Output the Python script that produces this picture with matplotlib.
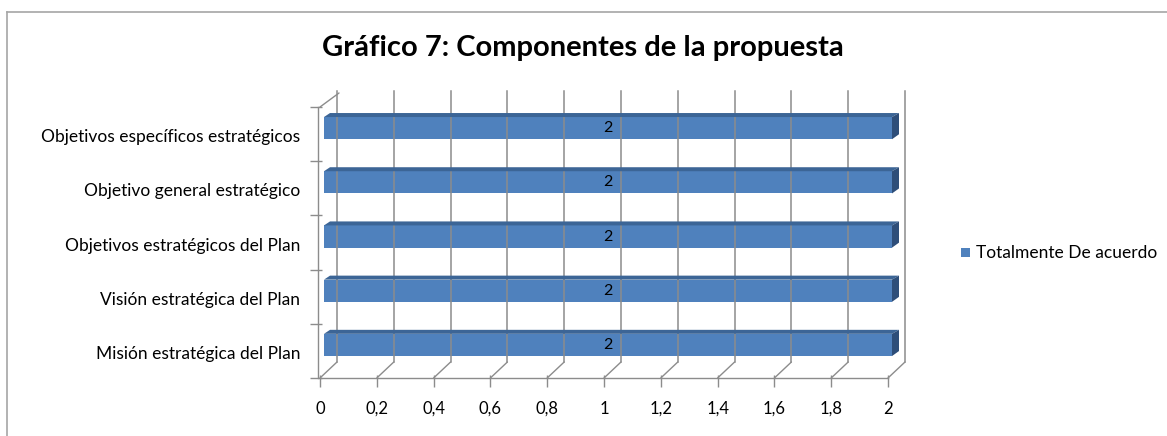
import matplotlib.pyplot as plt
import matplotlib.transforms as mtransforms
from matplotlib.patches import Polygon
from matplotlib.lines import Line2D

categorias = ["Misión estratégica del Plan", "Visión estratégica del Plan",
              "Objetivos estratégicos del Plan", "Objetivo general estratégico",
              "Objetivos específicos estratégicos"]
valores = [2, 2, 2, 2, 2]
ticks_x = [0, 0.2, 0.4, 0.6, 0.8, 1, 1.2, 1.4, 1.6, 1.8, 2]
etiquetas_x = ["0", "0,2", "0,4", "0,6", "0,8", "1", "1,2", "1,4", "1,6", "1,8", "2"]
serie = "Totalmente De acuerdo"

W, H = 1167, 436
fig = plt.figure(figsize=(W / 100, H / 100), dpi=100)
plt.rcParams['font.family'] = ['Lato', 'DejaVu Sans']

# marco del gráfico (solo se ven arriba e izquierda)
fig.add_artist(Line2D([7 / W, 7 / W], [0, 1 - 12 / H], color="#a6a6a6", lw=1.2))
fig.add_artist(Line2D([7 / W, 1], [1 - 12 / H, 1 - 12 / H], color="#a6a6a6", lw=1.2))

# ejes: frente del "suelo" de 320 a 888 px, de y=107 a y=378
ax = fig.add_axes([320 / W, 1 - 378 / H, 568 / W, 271 / H])
ax.set_xlim(0, 2)
ax.set_ylim(-0.5, 4.5)
ax.axis("off")

def off(dx, dy):
    return ax.transData + mtransforms.ScaledTranslation(dx / 100, dy / 100, fig.dpi_scale_trans)

DX, DY = 17, 16
grid = "#8c8c8c"
for t in ticks_x:
    # línea del fondo
    ax.plot([t, t], [-0.5, 4.5], color=grid, lw=1.1, transform=off(DX, DY), clip_on=False)
    # diagonal del suelo
    ax.annotate("", xy=(t, -0.5), xytext=(DX, DY), textcoords="offset pixels",
                xycoords="data", arrowprops=dict(arrowstyle="-", color=grid, lw=1.0,
                                                 shrinkA=0, shrinkB=0))
    ax.plot([t], [-0.5], color=grid, lw=1.0, marker=(2, 0, 0), ms=8,
            transform=off(0, -3), clip_on=False)

ax.plot([0, 2], [-0.5, -0.5], color=grid, lw=1.0, clip_on=False)
ax.plot([0, 0], [-0.5, 4.5], color=grid, lw=1.0, transform=off(-2, 0), clip_on=False)
for b in [-0.5, 0.5, 1.5, 2.5, 3.5, 4.5]:
    ax.plot([0], [b], marker=(2, 0, 90), ms=8, color=grid, transform=off(-4, 0), clip_on=False)
ax.annotate("", xy=(0, 4.5), xytext=(DX + 2, DY - 2), textcoords="offset pixels",
            arrowprops=dict(arrowstyle="-", color=grid, lw=1.0, shrinkA=0, shrinkB=0))

for i, t in enumerate(ticks_x):
    ax.text(t, -0.5, etiquetas_x[i], transform=off(0, -31), ha="center", va="center",
            fontsize=12, color="#000000")

# barras
alto = 0.41
desp = 0.11
frente = "#4f81bd"
for i, v in enumerate(valores):
    y0 = i + desp - alto / 2
    y1 = i + desp + alto / 2
    ax.barh(i + desp, v, height=alto, color=frente, edgecolor="none",
            transform=off(4, 0), clip_on=False)
    # cara superior y lateral como polígonos en píxeles
    tr = ax.transData
    x0p, y1p = tr.transform((0, y1))
    xvp, y0p = tr.transform((v, y0))
    x0p += 4
    xvp += 4
    sup = Polygon([[x0p, y1p], [xvp, y1p], [xvp + 7, y1p + 4], [x0p + 6, y1p + 4]],
                  closed=True, facecolor="#3c6596", edgecolor="none", transform=None)
    lat = Polygon([[xvp, y0p], [xvp + 7, y0p + 5], [xvp + 7, y1p + 4], [xvp, y1p]],
                  closed=True, facecolor="#2e4e79", edgecolor="none", transform=None)
    fig.patches.extend([sup, lat])
    ax.text(v / 2, i + desp, str(v), transform=off(4, 0), ha="center", va="center",
            fontsize=11.5, color="#000000")

for i, c in enumerate(categorias):
    ax.text(0, i, c, transform=off(-20, -3), ha="right", va="center", fontsize=12.5,
            color="#000000")

fig.text(583 / W, 1 - 48 / H, "Gráfico 7: Componentes de la propuesta", ha="center",
         va="center", fontsize=21, fontweight="bold", color="#000000")

# leyenda
fig.patches.append(Polygon([[961, H - 248], [970, H - 248], [970, H - 257], [961, H - 257]],
                           closed=True, facecolor=frente, edgecolor="none", transform=None))
fig.text(976 / W, 1 - 253 / H, serie, ha="left", va="center", fontsize=12.5, color="#000000")

fig.savefig("out.png", dpi=100)
